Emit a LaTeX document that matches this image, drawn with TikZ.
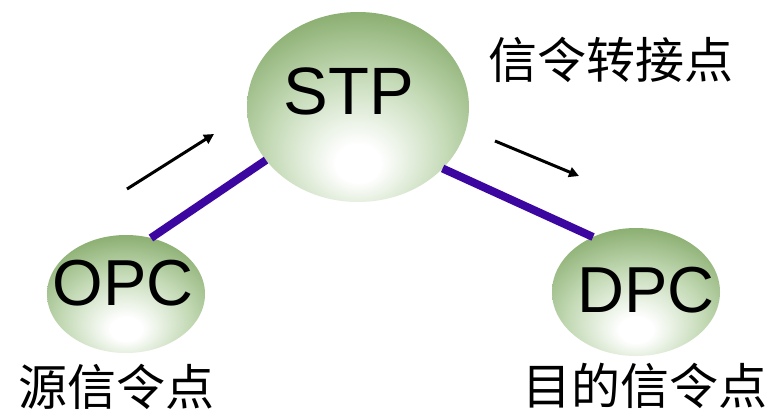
\documentclass[tikz,border=0pt]{standalone}
\usepackage{fontspec}
\setmainfont{Liberation Sans}
\newfontfamily\cjk{Noto Sans CJK SC}
\usetikzlibrary{shapes.geometric,arrows.meta}
\definecolor{gg}{RGB}{120,160,90}
\definecolor{gglight}{RGB}{196,218,182}
\definecolor{linkc}{RGB}{60,6,160}
\pgfdeclareradialshading{ballshade}{\pgfpoint{0bp}{-16bp}}{%
  color(0bp)=(white); color(5bp)=(white); color(20bp)=(gglight); color(38bp)=(gg); color(70bp)=(gg)}
\tikzset{
  ball/.style={ellipse, draw=none, shading=ballshade, inner sep=0pt, outer sep=0pt},
  big/.style={font=\fontsize{67}{70}\selectfont, inner sep=0pt, anchor=base},
  mid/.style={font=\fontsize{65}{68}\selectfont, inner sep=0pt, anchor=base},
  cjklabel/.style={font=\cjk\fontsize{49}{53}\selectfont, inner sep=0pt, anchor=center},
  link/.style={draw=linkc, line width=8pt},
  flow/.style={draw=black, line width=3pt, -{Triangle[length=10pt,width=10pt]}}
}
\begin{document}
\begin{tikzpicture}[x=1pt,y=-1pt]
\useasboundingbox[fill=white] (0,0) rectangle (776,414);
\node[ball, minimum width=222pt, minimum height=190pt] (stp) at (358,107) {};
\node[ball, minimum width=158pt, minimum height=118pt] (opc) at (126,294) {};
\node[ball, minimum width=168pt, minimum height=128pt] (dpc) at (636,292) {};
\draw[link] (stp.210) -- (opc.66);
\draw[link] (stp.-36) -- (dpc.128);
\node[big] (stpt) at (349,115) {STP};
\node[mid] (opct) at (123,305) {OPC};
\node[mid] (dpct) at (646,312) {DPC};
\node[cjklabel] (stpl) at (611,60) {信令转接点};
\node[cjklabel] (opcl) at (116,387) {源信令点};
\node[cjklabel] (dpcl) at (645,386) {目的信令点};
\coordinate (a1s) at (127,189);
\coordinate (a1e) at (214,134);
\coordinate (a2s) at (495,141);
\coordinate (a2e) at (579,176);
\draw[flow] (a1s) -- (a1e);
\draw[flow] (a2s) -- (a2e);
\end{tikzpicture}
\end{document}
